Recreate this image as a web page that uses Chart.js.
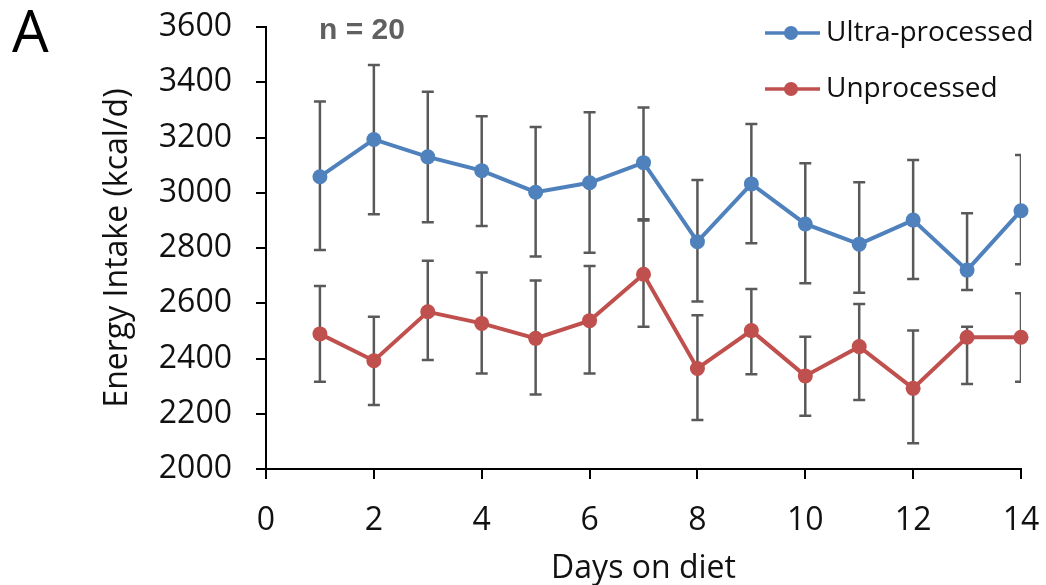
<!DOCTYPE html>
<html>
<head>
<meta charset="utf-8">
<script src="https://cdn.jsdelivr.net/npm/chart.js@4.4.1/dist/chart.umd.min.js"></script>
<style>
  html, body { margin: 0; padding: 0; background: #fff; }
  #wrap { width: 1046px; height: 585px; position: relative; }
</style>
</head>
<body>
<div id="wrap"><canvas id="c" width="1046" height="585"></canvas></div>
<script>
const days = [1, 2, 3, 4, 5, 6, 7, 8, 9, 10, 11, 12, 13, 14];
const ultraLabel = "Ultra-processed";
const unprocLabel = "Unprocessed";
const ultra    = [3058, 3193, 3130, 3080, 3002, 3036, 3109, 2823, 3032, 2887, 2814, 2901, 2720, 2935];
const ultraHi  = [3330, 3462, 3366, 3277, 3238, 3291, 3309, 3046, 3249, 3107, 3038, 3119, 2926, 3137];
const ultraLo  = [2793, 2922, 2893, 2880, 2769, 2783, 2904, 2606, 2817, 2672, 2638, 2688, 2648, 2741];
const unproc   = [2489, 2392, 2569, 2527, 2473, 2537, 2705, 2364, 2501, 2337, 2443, 2292, 2477, 2477];
const unprocHi = [2662, 2551, 2754, 2711, 2682, 2735, 2900, 2557, 2652, 2479, 2597, 2501, 2515, 2636];
const unprocLo = [2316, 2232, 2395, 2346, 2270, 2346, 2515, 2177, 2343, 2193, 2250, 2093, 2308, 2316];
const xTicks = [0, 2, 4, 6, 8, 10, 12, 14];
const yTicks = [2000, 2200, 2400, 2600, 2800, 3000, 3200, 3400, 3600];
const panelLetter = "A";
const nLabel = "n = 20";
const xTitle = "Days on diet";
const yTitle = "Energy Intake (kcal/d)";

const BLUE = "#4F81BD";
const RED = "#C0504D";
const ERR = "#595959";
const TXT = "#111111";
const FONT = "'Open Sans', sans-serif";

const errorBars = {
  id: "errorBars",
  beforeDatasetsDraw(chart) {
    const { ctx, chartArea, scales } = chart;
    const xs = scales.x, ys = scales.y;
    const sets = [[ultraLo, ultraHi], [unprocLo, unprocHi]];
    ctx.save();
    ctx.beginPath();
    ctx.rect(chartArea.left, 0, chartArea.right - chartArea.left, chart.height);
    ctx.clip();
    ctx.strokeStyle = ERR;
    ctx.lineWidth = 2.5;
    const cap = 6;
    sets.forEach(([lo, hi]) => {
      days.forEach((d, i) => {
        const px = xs.getPixelForValue(d);
        const pLo = ys.getPixelForValue(lo[i]);
        const pHi = ys.getPixelForValue(hi[i]);
        ctx.beginPath();
        ctx.moveTo(px, pLo); ctx.lineTo(px, pHi);
        ctx.moveTo(px - cap, pLo); ctx.lineTo(px + cap, pLo);
        ctx.moveTo(px - cap, pHi); ctx.lineTo(px + cap, pHi);
        ctx.stroke();
      });
    });
    ctx.restore();
  },
  afterDraw(chart) {
    const { ctx } = chart;
    ctx.save();
    ctx.fillStyle = "#000";
    ctx.font = "58px " + FONT;
    ctx.textAlign = "left";
    ctx.textBaseline = "alphabetic";
    ctx.fillText(panelLetter, 12, 52);
    ctx.fillStyle = "#606060";
    ctx.font = "bold 30px 'Liberation Sans', Arial, sans-serif";
    ctx.textBaseline = "middle";
    ctx.fillText(nLabel, 319, 31);
    const items = [[ultraLabel, BLUE, 33], [unprocLabel, RED, 89]];
    items.forEach(([label, col, y]) => {
      ctx.strokeStyle = col;
      ctx.lineWidth = 3.5;
      ctx.beginPath();
      ctx.moveTo(765, y); ctx.lineTo(820, y);
      ctx.stroke();
      ctx.fillStyle = col;
      ctx.beginPath();
      ctx.arc(791, y, 7, 0, Math.PI * 2);
      ctx.fill();
      ctx.fillStyle = TXT;
      ctx.font = "28px " + FONT;
      ctx.textBaseline = "middle";
      ctx.fillText(label, 826, y);
    });
    ctx.restore();
  }
};

new Chart(document.getElementById("c"), {
  type: "line",
  data: {
    datasets: [
      {
        label: ultraLabel,
        data: days.map((d, i) => ({ x: d, y: ultra[i] })),
        borderColor: BLUE, backgroundColor: BLUE,
        pointBackgroundColor: BLUE, pointBorderColor: BLUE,
        borderWidth: 4, pointRadius: 7.5, pointBorderWidth: 0,
        tension: 0, clip: false
      },
      {
        label: unprocLabel,
        data: days.map((d, i) => ({ x: d, y: unproc[i] })),
        borderColor: RED, backgroundColor: RED,
        pointBackgroundColor: RED, pointBorderColor: RED,
        borderWidth: 4, pointRadius: 7.5, pointBorderWidth: 0,
        tension: 0, clip: false
      }
    ]
  },
  options: {
    responsive: false,
    animation: false,
    devicePixelRatio: 1,
    layout: { padding: { top: 27, right: 25, left: 0, bottom: 0 } },
    plugins: { legend: { display: false }, tooltip: { enabled: false } },
    scales: {
      x: {
        type: "linear",
        min: 0, max: 14,
        afterBuildTicks(scale) { scale.ticks = xTicks.map(v => ({ value: v })); },
        afterFit(scale) { scale.height = 116; scale.paddingLeft = 0; scale.paddingRight = 0; },
        border: { color: "#000", width: 2 },
        grid: { drawOnChartArea: false, drawTicks: true, tickLength: 10, color: "#000", lineWidth: 2 },
        ticks: { color: TXT, font: { family: FONT, size: 32 }, padding: 23, maxRotation: 0, autoSkip: false,
                 callback: v => String(v) },
        title: { display: true, text: xTitle, color: TXT, font: { family: FONT, size: 32, lineHeight: 1 }, padding: { top: 0, bottom: 0 } }
      },
      y: {
        type: "linear",
        min: 2000, max: 3600,
        afterBuildTicks(scale) { scale.ticks = yTicks.map(v => ({ value: v })); },
        afterFit(scale) { scale.width = 266; scale.paddingTop = 0; scale.paddingBottom = 0; },
        border: { color: "#000", width: 2 },
        grid: { drawOnChartArea: false, drawTicks: true, tickLength: 10, color: "#000", lineWidth: 2 },
        ticks: { color: TXT, font: { family: FONT, size: 32 }, padding: 24, autoSkip: false,
                 callback: v => String(v) },
        title: { display: true, text: yTitle, color: TXT, font: { family: FONT, size: 32 }, padding: { top: 99, bottom: 0 } }
      }
    }
  },
  plugins: [errorBars]
});
</script>
</body>
</html>
